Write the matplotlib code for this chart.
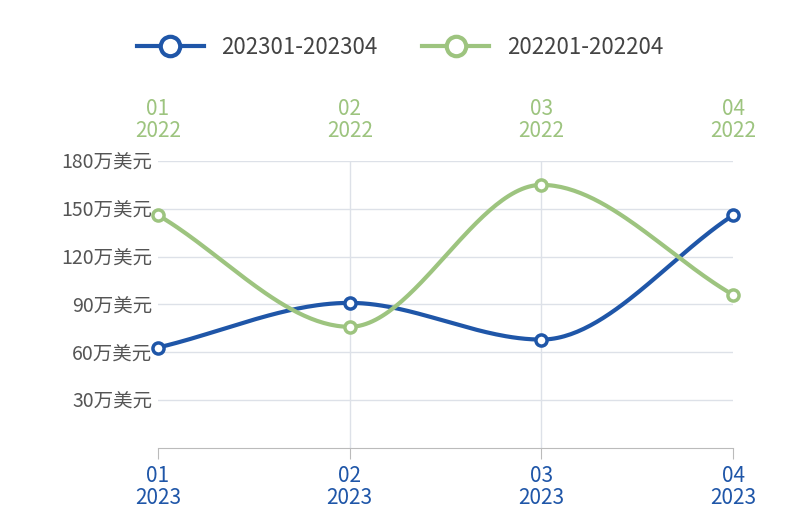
import matplotlib
matplotlib.use("Agg")
import matplotlib.pyplot as plt
import numpy as np

plt.rcParams['font.family'] = ['Noto Sans CJK SC', 'DejaVu Sans']

cats = ["01", "02", "03", "04"]
bottom_year = "2023"
top_year = "2022"
s2023 = [63, 91, 68, 146]
s2022 = [146, 76, 165, 96]
yticks = [30, 60, 90, 120, 150, 180]
blue = "#1f56a8"
green = "#9dc47f"

def monotone(y, n=60):
    y = np.asarray(y, float)
    m = len(y)
    d = np.diff(y)
    t = np.zeros(m)
    t[0], t[-1] = d[0], d[-1]
    for i in range(1, m-1):
        t[i] = 0 if d[i-1]*d[i] <= 0 else 2/(1/d[i-1] + 1/d[i])
    xs, ys = [], []
    for i in range(m-1):
        s = np.linspace(0, 1, n)
        h00 = 2*s**3-3*s**2+1; h10 = s**3-2*s**2+s; h01 = -2*s**3+3*s**2; h11 = s**3-s**2
        ys.append(h00*y[i] + h10*t[i] + h01*y[i+1] + h11*t[i+1]); xs.append(i+s)
    return np.concatenate(xs), np.concatenate(ys)

fig = plt.figure(figsize=(8, 5.25), dpi=100)
ax = fig.add_axes([0.1975, 0.1467, 0.719, 0.5467])
x = np.arange(len(cats))
for data, c, lab in [(s2023, blue, "202301-202304"), (s2022, green, "202201-202204")]:
    sx, sy = monotone(data)
    ax.plot(sx, sy, color=c, lw=3, zorder=3, clip_on=False)
    ax.plot(x, data, 'o', ms=8, mfc='white', mec=c, mew=2.5, zorder=4, clip_on=False)
    ax.plot([], [], '-o', color=c, lw=3, ms=14, mfc='white', mew=3, label=lab)

ax.set_xlim(0, 3)
ax.set_ylim(0, 180)
ax.set_yticks(yticks)
ax.set_yticklabels([f"{v}万美元" for v in yticks], fontsize=14, color="#555555")
ax.grid(axis='y', color="#dde1e8", lw=1)
for xv in x[1:-1]:
    ax.axvline(xv, color="#dde1e8", lw=1)
for s in ['top', 'right', 'left']:
    ax.spines[s].set_visible(False)
ax.spines['bottom'].set_color("#bbbbbb")
ax.tick_params(axis='y', length=0, pad=4)
ax.set_xticks(x)
ax.set_xticklabels([f"{c}\n{bottom_year}" for c in cats], fontsize=15, color=blue, linespacing=1.0)
ax.tick_params(axis='x', length=8, color="#bbbbbb", pad=4)
ax.set_axisbelow(True)
ax2 = ax.secondary_xaxis('top')
ax2.set_xticks(x)
ax2.set_xticklabels([f"{c}\n{top_year}" for c in cats], fontsize=15, color=green, linespacing=1.0)
ax2.tick_params(length=0, pad=14)
ax2.spines['top'].set_visible(False)

fig.legend(loc='upper center', bbox_to_anchor=(0.5, 0.97), ncol=2, frameon=False,
           fontsize=16, handlelength=3, columnspacing=2, labelcolor="#444444")
fig.savefig("out.png", dpi=100)
